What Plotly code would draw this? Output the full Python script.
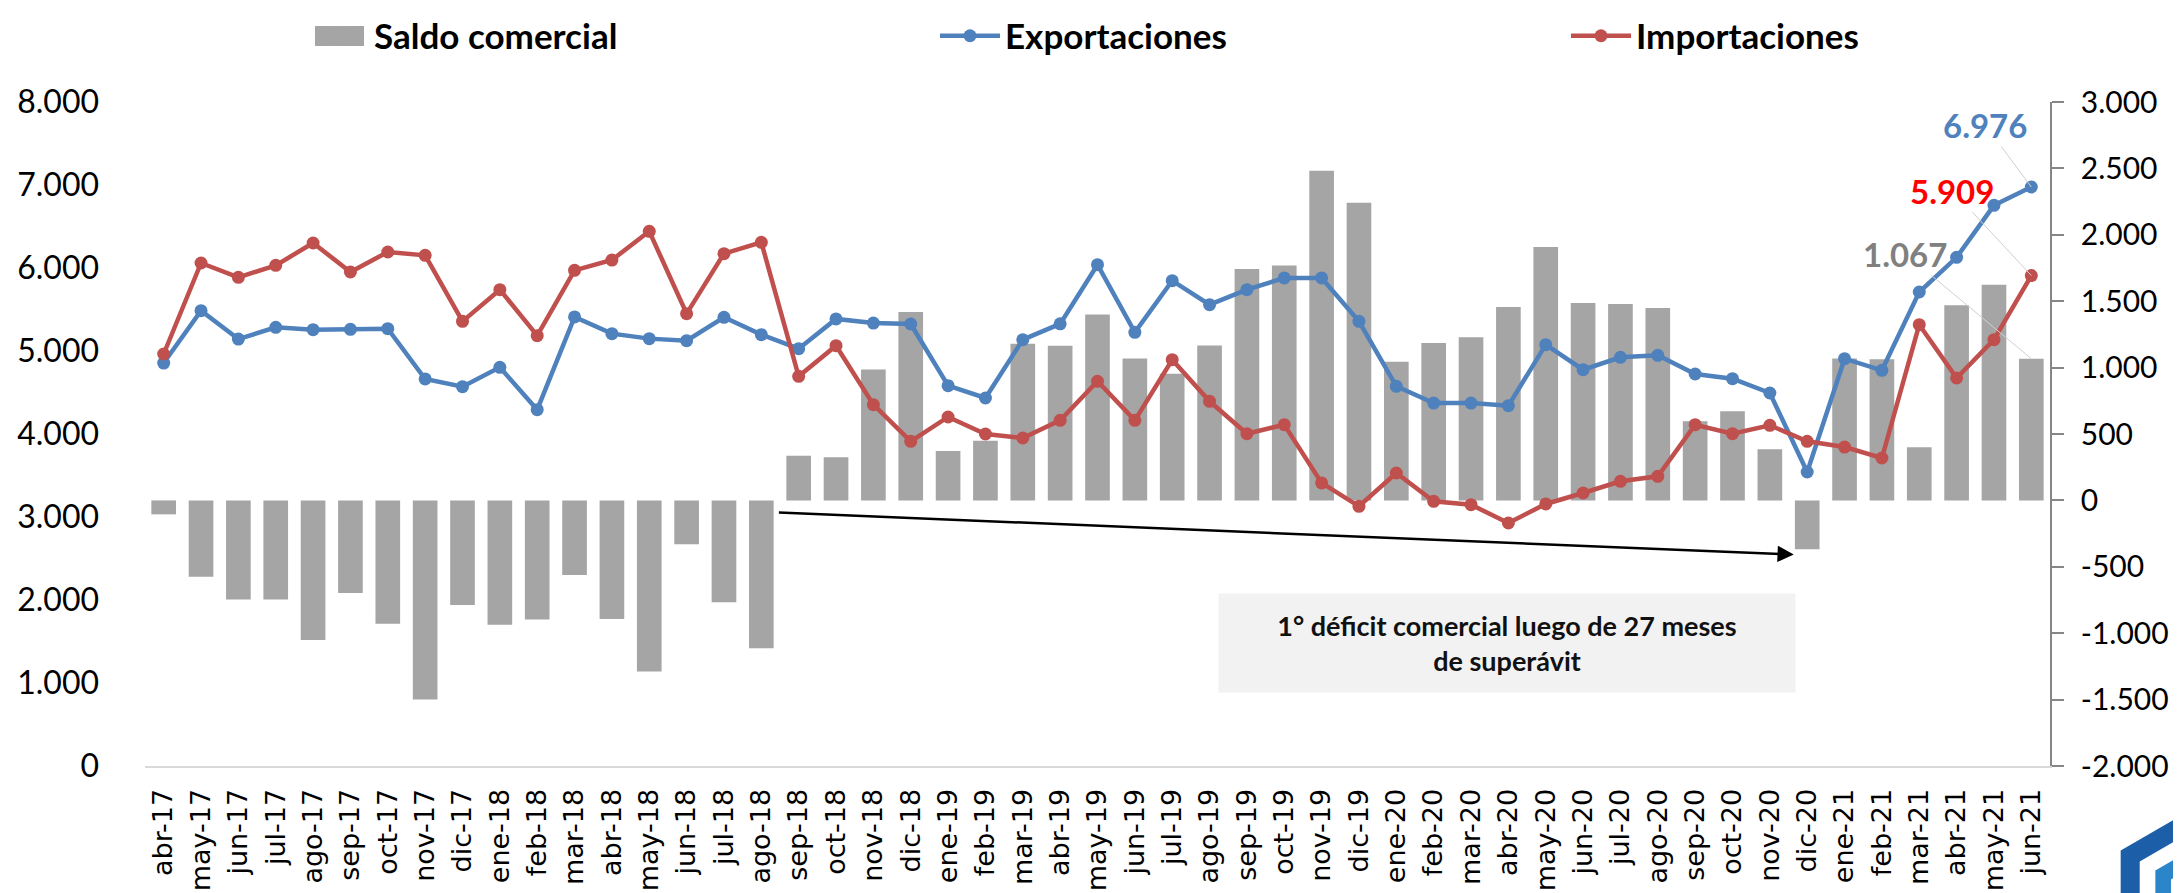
import plotly.graph_objects as go

# =====================
# DATA (millones USD)
# =====================
meses = [
    "abr-17", "may-17", "jun-17", "jul-17", "ago-17", "sep-17", "oct-17", "nov-17", "dic-17",
    "ene-18", "feb-18", "mar-18", "abr-18", "may-18", "jun-18", "jul-18", "ago-18", "sep-18",
    "oct-18", "nov-18", "dic-18", "ene-19", "feb-19", "mar-19", "abr-19", "may-19", "jun-19",
    "jul-19", "ago-19", "sep-19", "oct-19", "nov-19", "dic-19", "ene-20", "feb-20", "mar-20",
    "abr-20", "may-20", "jun-20", "jul-20", "ago-20", "sep-20", "oct-20", "nov-20", "dic-20",
    "ene-21", "feb-21", "mar-21", "abr-21", "may-21", "jun-21",
]

exportaciones = [
    4855, 5486, 5144, 5285, 5257, 5261, 5269, 4663, 4570,
    4803, 4293, 5410, 5209, 5149, 5125, 5406, 5197, 5028,
    5386, 5337, 5325, 4582, 4434, 5137, 5327, 6040, 5225,
    5847, 5558, 5739, 5880, 5880, 5357, 4574, 4373, 4373,
    4341, 5076, 4775, 4924, 4948, 4723, 4666, 4494, 3542,
    4907, 4767, 5711, 6129, 6755, 6976,
]

importaciones = [
    4964, 6060, 5888, 6032, 6301, 5952, 6193, 6153, 5357,
    5739, 5185, 5972, 6096, 6442, 5450, 6173, 6309, 4695,
    5064, 4353, 3912, 4205, 4000, 3952, 4165, 4635, 4165,
    4895, 4394, 4004, 4112, 3410, 3129, 3530, 3189, 3148,
    2928, 3157, 3289, 3430, 3490, 4112, 4004, 4105, 3912,
    3843, 3711, 5317, 4675, 5137, 5909,
]

saldo = [
    -105, -574, -747, -747, -1051, -697, -928, -1499, -788,
    -936, -896, -561, -893, -1288, -330, -767, -1114, 337,
    325, 986, 1419, 372, 450, 1180, 1165, 1399, 1069,
    953, 1167, 1743, 1768, 2483, 2242, 1044, 1185, 1228,
    1457, 1909, 1487, 1479, 1449, 596, 672, 385, -367,
    1069, 1062, 400, 1469, 1623, 1067,
]

ticks_izq = [0, 1000, 2000, 3000, 4000, 5000, 6000, 7000, 8000]
ticks_izq_txt = ["0", "1.000", "2.000", "3.000", "4.000", "5.000", "6.000", "7.000", "8.000"]
ticks_der = [-2000, -1500, -1000, -500, 0, 500, 1000, 1500, 2000, 2500, 3000]
ticks_der_txt = ["-2.000", "-1.500", "-1.000", "-500", "0", "500", "1.000", "1.500",
                 "2.000", "2.500", "3.000"]

AZUL = "#4f81bd"
ROJO = "#c0504d"
GRIS = "#a5a5a5"
FONT = "Lato"

W, H = 2181, 893
L, R, T, B = 137, 139, 94, 135


def px(x):
    return (x - L) / (W - L - R)


def py(y):
    return (H - B - y) / (H - T - B)


fig = go.Figure()

# barras en el eje derecho (primario, para quedar detrás de las líneas)
fig.add_trace(go.Bar(
    x=meses, y=saldo, name="Saldo comercial",
    marker=dict(color=GRIS, line=dict(width=0)),
    yaxis="y",
))
fig.add_trace(go.Scatter(
    x=meses, y=exportaciones, name="Exportaciones", mode="lines+markers",
    line=dict(color=AZUL, width=4.5), marker=dict(size=13, color=AZUL),
    yaxis="y2",
))
fig.add_trace(go.Scatter(
    x=meses, y=importaciones, name="Importaciones", mode="lines+markers",
    line=dict(color=ROJO, width=4.5), marker=dict(size=13, color=ROJO),
    yaxis="y2",
))

# etiquetas del último dato
ult = meses[-1]
fig.add_annotation(x=ult, y=exportaciones[-1], yref="y2",
                   text="<b>6.976</b>", font=dict(family=FONT, size=33, color=AZUL),
                   showarrow=True, arrowhead=0, arrowwidth=1, arrowcolor="#d0d0d0",
                   ax=-46, ay=-62)
fig.add_annotation(x=ult, y=importaciones[-1], yref="y2",
                   text="<b>5.909</b>", font=dict(family=FONT, size=33, color="#ff0000"),
                   showarrow=True, arrowhead=0, arrowwidth=1, arrowcolor="#d0d0d0",
                   ax=-79, ay=-85)
fig.add_annotation(x=ult, y=saldo[-1], yref="y",
                   text="<b>1.067</b>", font=dict(family=FONT, size=33, color="#808080"),
                   showarrow=True, arrowhead=0, arrowwidth=1, arrowcolor="#d0d0d0",
                   ax=-126, ay=-105)

# flecha del déficit
fig.add_annotation(x=43.64, y=-408, xref="x", yref="y",
                   ax=16.43, ay=-91, axref="x", ayref="y",
                   text="", showarrow=True, arrowhead=2, arrowsize=1.3,
                   arrowwidth=2.5, arrowcolor="black", standoff=0)

fig.add_annotation(x=35.96, y=-1072, xref="x", yref="y",
                   text="<b>1° déficit comercial luego de 27 meses<br>de superávit</b>",
                   font=dict(family=FONT, size=27, color="#111111"),
                   showarrow=False, bgcolor="#f2f2f2", width=574, height=96,
                   align="center", valign="middle")

# símbolo ancho de la leyenda para las barras
fig.add_shape(type="rect", xref="paper", yref="paper",
              x0=px(307), x1=px(356), y0=py(38), y1=py(18),
              fillcolor=GRIS, line=dict(width=0), layer="above")


# logo (esquina inferior derecha)
def hexagono(cx, cy, r):
    pts = [(cx, cy - r), (cx - 0.866 * r, cy - r / 2), (cx - 0.866 * r, cy + r / 2),
           (cx, cy + r), (cx + 0.866 * r, cy + r / 2), (cx + 0.866 * r, cy - r / 2)]
    return "M " + " L ".join(f"{px(a):.4f},{py(b):.4f}" for a, b in pts) + " Z"


for r, col in [(95, "#1c5fa8"), (73, "white"), (55, "#2b86c9"), (37, "white")]:
    fig.add_shape(type="path", path=hexagono(2195, 890, r), xref="paper", yref="paper",
                  fillcolor=col, line=dict(width=0), layer="above")

fig.update_layout(
    width=W, height=H,
    margin=dict(l=L, r=R, t=T, b=B, pad=0, autoexpand=False),
    plot_bgcolor="white", paper_bgcolor="white",
    font=dict(family=FONT, size=32, color="black"),
    bargap=0.34,
    showlegend=True,
    legend=dict(
        orientation="h", x=px(296), y=py(28), xanchor="left", yanchor="middle",
        font=dict(family=FONT, size=35, color="black", weight="bold"),
        entrywidth=556, entrywidthmode="pixels",
        bgcolor="rgba(0,0,0,0)", itemwidth=60, borderwidth=0,
    ),
    xaxis=dict(
        type="category", range=[-0.5, len(meses) - 0.5],
        tickangle=-90, tickfont=dict(family="DejaVu Sans", size=27, color="black"),
        showline=True, linecolor="#d9d9d9", linewidth=2,
        showgrid=False, zeroline=False, ticks="", ticklabelstandoff=10,
    ),
    yaxis=dict(
        side="right", range=[-2000, 3000],
        tickvals=ticks_der, ticktext=ticks_der_txt,
        showgrid=False, zeroline=False,
        showline=True, linecolor="#868686", linewidth=1.5,
        ticks="outside", ticklen=12, tickcolor="#868686", tickwidth=1.5,
        tickfont=dict(family=FONT, size=30, color="black"), ticklabelstandoff=11,
    ),
    yaxis2=dict(
        side="left", overlaying="y", range=[0, 8000],
        tickvals=ticks_izq, ticktext=ticks_izq_txt,
        showgrid=False, zeroline=False, showline=False, ticks="",
        tickfont=dict(family=FONT, size=32, color="black"), ticklabelstandoff=45,
    ),
)

fig.write_html("out.html")
